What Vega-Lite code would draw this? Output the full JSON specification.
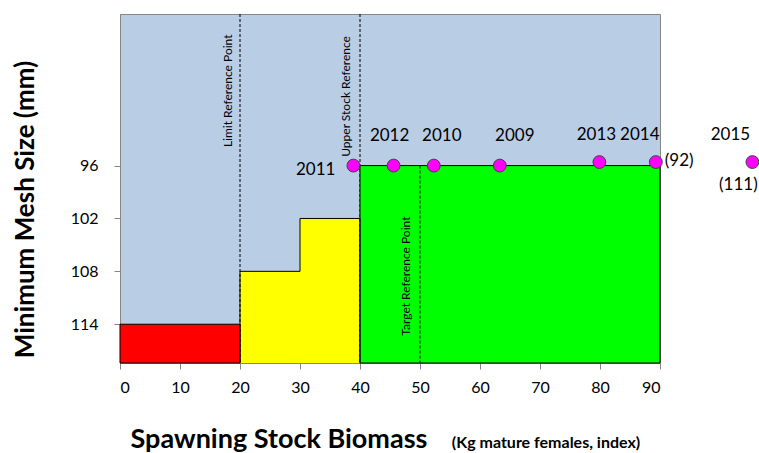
{
  "$schema": "https://vega.github.io/schema/vega-lite/v6.json",
  "width": 540,
  "height": 349,
  "autosize": {"type": "none"},
  "padding": {"left": 120, "top": 14, "right": 99, "bottom": 90},
  "background": "white",
  "config": {
    "view": {"fill": "#B9CDE5", "stroke": "#868686", "strokeWidth": 1},
    "font": "Lato",
    "axis": {"domainColor": "#868686", "tickColor": "#868686", "labelFont": "Lato", "labelFontSize": 16, "labelColor": "black", "grid": false, "titleFont": "Lato", "titleColor": "black", "titleFontWeight": "bold", "zindex": 1}
  },
  "datasets": {
    "zones": [
      {"zone": "Critical", "ssb": 0, "ssb2": 20, "mesh": 114, "mesh2": 118.4},
      {"zone": "Cautious", "ssb": 20, "ssb2": 30, "mesh": 108, "mesh2": 118.4},
      {"zone": "Cautious", "ssb": 30, "ssb2": 40, "mesh": 102, "mesh2": 118.4},
      {"zone": "Healthy", "ssb": 40, "ssb2": 90, "mesh": 96, "mesh2": 118.4}
    ],
    "step": [
      {"i": 1, "ssb": 20, "mesh": 118.4},
      {"i": 2, "ssb": 20, "mesh": 108},
      {"i": 3, "ssb": 30, "mesh": 108},
      {"i": 4, "ssb": 30, "mesh": 102},
      {"i": 5, "ssb": 40, "mesh": 102},
      {"i": 6, "ssb": 40, "mesh": 118.4}
    ],
    "refs": [
      {"ref": "Limit Reference Point", "ssb": 20},
      {"ref": "Upper Stock Reference", "ssb": 40},
      {"ref": "Target Reference Point", "ssb": 50}
    ],
    "points": [
      {"year": "2009", "ssb": 63.3, "mesh": 96, "note": ""},
      {"year": "2010", "ssb": 52.3, "mesh": 96, "note": ""},
      {"year": "2011", "ssb": 38.9, "mesh": 96, "note": ""},
      {"year": "2012", "ssb": 45.6, "mesh": 96, "note": ""},
      {"year": "2013", "ssb": 79.9, "mesh": 95.6, "note": ""},
      {"year": "2014", "ssb": 89.3, "mesh": 95.6, "note": "(92)"},
      {"year": "2015", "ssb": 105.4, "mesh": 95.6, "note": "(111)"}
    ]
  },
  "layer": [
    {
      "data": {"name": "zones"},
      "transform": [{"filter": "datum.zone == 'Cautious'"}],
      "mark": {"type": "rect"},
      "encoding": {
        "x": {"field": "ssb", "type": "quantitative",
          "scale": {"domain": [0, 90], "nice": false, "zero": false},
          "axis": {"title": "Spawning Stock Biomass", "values": [0, 10, 20, 30, 40, 50, 60, 70, 80, 90], "tickSize": 6, "labelPadding": 10, "titleFontSize": 27, "titleX": 10, "titleY": 84, "titleAlign": "left", "titleBaseline": "alphabetic"}},
        "x2": {"field": "ssb2"},
        "y": {"field": "mesh", "type": "quantitative",
          "scale": {"domain": [78.8, 118.4], "nice": false, "zero": false, "reverse": true},
          "axis": {"title": "Minimum Mesh Size (mm)", "values": [96, 102, 108, 114], "tickSize": 6, "labelPadding": 16, "titleFontSize": 26, "titleAngle": 270, "titleX": -87, "titleY": 195, "titleAlign": "center", "titleBaseline": "alphabetic"}},
        "y2": {"field": "mesh2"},
        "color": {"field": "zone", "type": "nominal", "scale": {"domain": ["Critical", "Cautious", "Healthy"], "range": ["#FF0000", "#FFFF00", "#00FF00"]}, "legend": null}
      }
    },
    {
      "data": {"name": "refs"},
      "transform": [{"filter": "datum.ssb < 45"}],
      "mark": {"type": "rule", "color": "black", "strokeWidth": 1, "strokeDash": [3, 2]},
      "encoding": {
        "x": {"field": "ssb", "type": "quantitative"}
      }
    },
    {
      "data": {"name": "zones"},
      "transform": [{"filter": "datum.zone != 'Cautious'"}],
      "mark": {"type": "rect", "stroke": "black", "strokeWidth": 1},
      "encoding": {
        "x": {"field": "ssb", "type": "quantitative"},
        "x2": {"field": "ssb2"},
        "y": {"field": "mesh", "type": "quantitative"},
        "y2": {"field": "mesh2"},
        "color": {"field": "zone", "type": "nominal", "legend": null}
      }
    },
    {
      "data": {"name": "step"},
      "mark": {"type": "line", "color": "black", "strokeWidth": 1},
      "encoding": {
        "x": {"field": "ssb", "type": "quantitative"},
        "y": {"field": "mesh", "type": "quantitative"},
        "order": {"field": "i"}
      }
    },
    {
      "data": {"name": "refs"},
      "transform": [{"filter": "datum.ssb == 50"}],
      "mark": {"type": "rule", "color": "black", "strokeWidth": 1, "strokeDash": [3, 2]},
      "encoding": {
        "x": {"field": "ssb", "type": "quantitative"},
        "y": {"datum": 96},
        "y2": {"datum": 118.4}
      }
    },
    {
      "data": {"name": "refs"},
      "transform": [{"filter": "datum.ssb == 20"}],
      "mark": {"type": "text", "angle": 270, "align": "left", "baseline": "alphabetic", "dy": -8, "fontSize": 12, "color": "black"},
      "encoding": {
        "x": {"field": "ssb", "type": "quantitative"},
        "y": {"datum": 93.9},
        "text": {"field": "ref"}
      }
    },
    {
      "data": {"name": "refs"},
      "transform": [{"filter": "datum.ssb == 40"}],
      "mark": {"type": "text", "angle": 270, "align": "left", "baseline": "alphabetic", "dy": -10, "fontSize": 12, "color": "black"},
      "encoding": {
        "x": {"field": "ssb", "type": "quantitative"},
        "y": {"datum": 95.0},
        "text": {"field": "ref"}
      }
    },
    {
      "data": {"name": "refs"},
      "transform": [{"filter": "datum.ssb == 50"}],
      "mark": {"type": "text", "angle": 270, "align": "left", "baseline": "alphabetic", "dy": -10, "fontSize": 12, "color": "black"},
      "encoding": {
        "x": {"field": "ssb", "type": "quantitative"},
        "y": {"datum": 115.3},
        "text": {"field": "ref"}
      }
    },
    {
      "data": {"name": "points"},
      "mark": {"type": "point", "shape": "circle", "filled": true, "size": 165, "fill": "#FF00FF", "stroke": "#404040", "strokeWidth": 1, "opacity": 1, "clip": false},
      "encoding": {
        "x": {"field": "ssb", "type": "quantitative"},
        "y": {"field": "mesh", "type": "quantitative"}
      }
    },
    {
      "data": {"name": "points"},
      "transform": [{"filter": "datum.year == '2011'"}],
      "mark": {"type": "text", "align": "right", "baseline": "middle", "dx": -18, "dy": 4, "fontSize": 17, "color": "black"},
      "encoding": {
        "x": {"field": "ssb", "type": "quantitative"},
        "y": {"field": "mesh", "type": "quantitative"},
        "text": {"field": "year"}
      }
    },
    {
      "data": {"name": "points"},
      "transform": [{"filter": "datum.year == '2012'"}],
      "mark": {"type": "text", "align": "center", "baseline": "middle", "dx": -4, "dy": -30, "fontSize": 17, "color": "black"},
      "encoding": {
        "x": {"field": "ssb", "type": "quantitative"},
        "y": {"field": "mesh", "type": "quantitative"},
        "text": {"field": "year"}
      }
    },
    {
      "data": {"name": "points"},
      "transform": [{"filter": "datum.year == '2010'"}],
      "mark": {"type": "text", "align": "center", "baseline": "middle", "dx": 8, "dy": -30, "fontSize": 17, "color": "black"},
      "encoding": {
        "x": {"field": "ssb", "type": "quantitative"},
        "y": {"field": "mesh", "type": "quantitative"},
        "text": {"field": "year"}
      }
    },
    {
      "data": {"name": "points"},
      "transform": [{"filter": "datum.year == '2009'"}],
      "mark": {"type": "text", "align": "center", "baseline": "middle", "dx": 15, "dy": -30, "fontSize": 17, "color": "black"},
      "encoding": {
        "x": {"field": "ssb", "type": "quantitative"},
        "y": {"field": "mesh", "type": "quantitative"},
        "text": {"field": "year"}
      }
    },
    {
      "data": {"name": "points"},
      "transform": [{"filter": "datum.year == '2013'"}],
      "mark": {"type": "text", "align": "center", "baseline": "middle", "dx": -3, "dy": -27, "fontSize": 17, "color": "black"},
      "encoding": {
        "x": {"field": "ssb", "type": "quantitative"},
        "y": {"field": "mesh", "type": "quantitative"},
        "text": {"field": "year"}
      }
    },
    {
      "data": {"name": "points"},
      "transform": [{"filter": "datum.year == '2014'"}],
      "mark": {"type": "text", "align": "center", "baseline": "middle", "dx": -16, "dy": -27, "fontSize": 17, "color": "black"},
      "encoding": {
        "x": {"field": "ssb", "type": "quantitative"},
        "y": {"field": "mesh", "type": "quantitative"},
        "text": {"field": "year"}
      }
    },
    {
      "data": {"name": "points"},
      "transform": [{"filter": "datum.year == '2015'"}],
      "mark": {"type": "text", "align": "center", "baseline": "middle", "dx": -22, "dy": -27, "fontSize": 17, "color": "black"},
      "encoding": {
        "x": {"field": "ssb", "type": "quantitative"},
        "y": {"field": "mesh", "type": "quantitative"},
        "text": {"field": "year"}
      }
    },
    {
      "data": {"name": "points"},
      "transform": [{"filter": "datum.year == '2014'"}],
      "mark": {"type": "text", "align": "left", "baseline": "middle", "dx": 9, "dy": -1.5, "fontSize": 17, "color": "black"},
      "encoding": {
        "x": {"field": "ssb", "type": "quantitative"},
        "y": {"field": "mesh", "type": "quantitative"},
        "text": {"field": "note"}
      }
    },
    {
      "data": {"name": "points"},
      "transform": [{"filter": "datum.year == '2015'"}],
      "mark": {"type": "text", "align": "center", "baseline": "middle", "dx": -14, "dy": 23, "fontSize": 17, "color": "black"},
      "encoding": {
        "x": {"field": "ssb", "type": "quantitative"},
        "y": {"field": "mesh", "type": "quantitative"},
        "text": {"field": "note"}
      }
    },
    {
      "data": {"values": [{"label": "(Kg mature females, index)"}]},
      "mark": {"type": "text", "align": "left", "baseline": "alphabetic", "fontSize": 16, "fontWeight": "bold", "color": "black"},
      "encoding": {
        "x": {"datum": 55.3},
        "y": {"datum": 128.0},
        "text": {"field": "label"}
      }
    }
  ]
}
